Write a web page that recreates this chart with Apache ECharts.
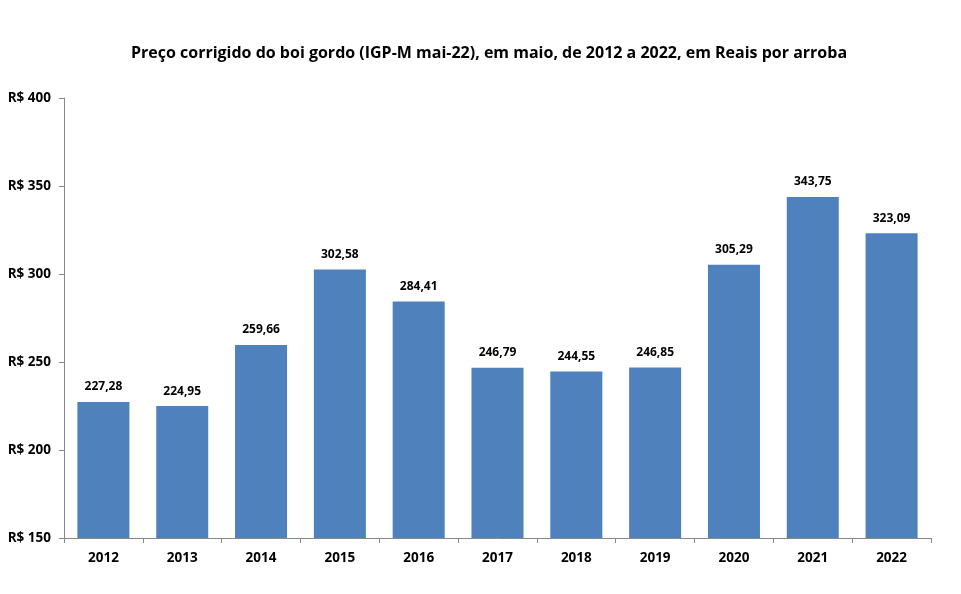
<!DOCTYPE html>
<html><head><meta charset="utf-8">
<script src="https://cdn.jsdelivr.net/npm/echarts@6/dist/echarts.min.js"></script>
<style>html,body{margin:0;padding:0;background:#fff}#c{width:961px;height:594px}</style>
</head><body><div id="c"></div>
<script>
const titleText = 'Preço corrigido do boi gordo (IGP-M mai-22), em maio, de 2012 a 2022, em Reais por arroba';
const categories = ['2012','2013','2014','2015','2016','2017','2018','2019','2020','2021','2022'];
const values = [227.28,224.95,259.66,302.58,284.41,246.79,244.55,246.85,305.29,343.75,323.09];
const yMin = 150, yMax = 400, yStep = 50;
const fontFam = '"Open Sans", "Noto Sans", sans-serif';
const chart = echarts.init(document.getElementById('c'));
chart.setOption({
  animation:false,
  backgroundColor:'#fff',
  title:{text:titleText,left:484,textAlign:'center',top:40,textStyle:{fontFamily:fontFam,fontSize:16,fontWeight:'bold',color:'#000'}},
  grid:{left:64,right:30,top:98,bottom:56,containLabel:false},
  xAxis:{type:'category',data:categories,
    axisLine:{lineStyle:{color:'#888',width:1}},
    axisTick:{show:true,alignWithLabel:false,length:5,lineStyle:{color:'#888'}},
    axisLabel:{fontFamily:fontFam,fontSize:13.5,fontWeight:'bold',color:'#000',margin:13}},
  yAxis:{type:'value',min:yMin,max:yMax,interval:yStep,
    axisLine:{show:true,lineStyle:{color:'#888',width:1}},
    axisTick:{show:true,length:5,lineStyle:{color:'#888'}},
    splitLine:{show:false},
    axisLabel:{fontFamily:fontFam,fontSize:13.5,fontWeight:'bold',color:'#000',margin:13,
      formatter:v=>'R$ '+v}},
  series:[{type:'bar',data:values,barWidth:'66%',
    itemStyle:{color:'#4F81BD'},
    label:{show:true,position:'top',distance:9,fontFamily:fontFam,fontSize:12,fontWeight:'bold',color:'#000',
      formatter:p=>p.value.toFixed(2).replace('.',',')}}]
});
</script></body></html>
